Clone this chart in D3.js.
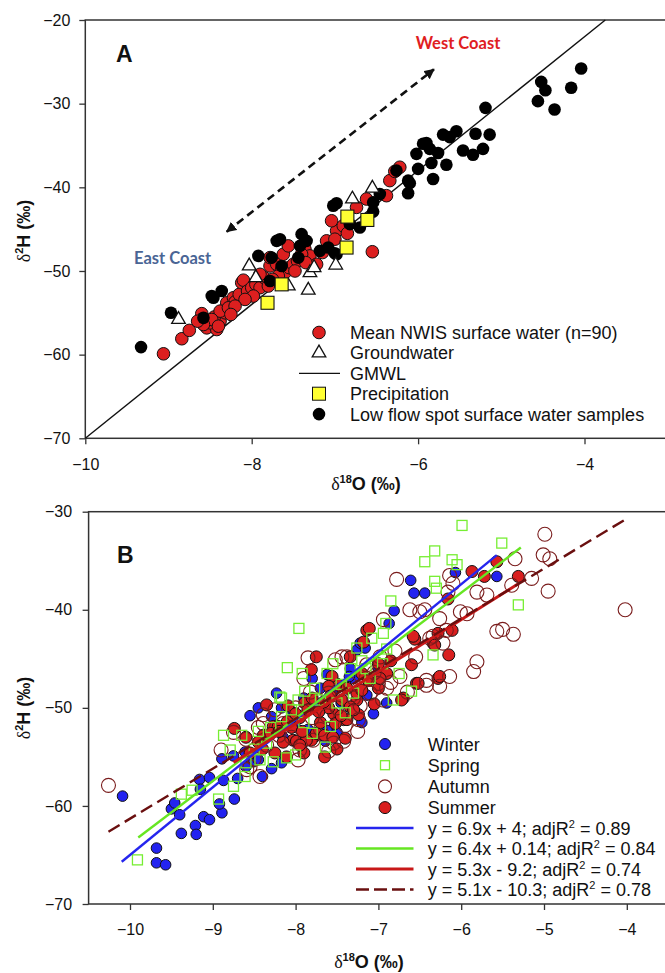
<!DOCTYPE html>
<html>
<head>
<meta charset="utf-8">
<script src="https://cdn.jsdelivr.net/npm/d3@7"></script>
<style>
  body { margin: 0; background: #fff; }
  text { font-family: "Liberation Sans", Arial, sans-serif; }
</style>
</head>
<body>
<div id="chart"></div>
<script>
const width = 665;
const height = 973;

// ---------- panel A data (d18O, d2H) ----------
const nwisMean = [
  [-9.06, -59.9], [-8.84, -58.1], [-8.75, -57.1], [-8.6, -55.1], [-8.54, -56.8],
  [-8.42, -57.0], [-8.38, -56.0], [-8.45, -55.5], [-8.5, -56.2], [-8.32, -55.0],
  [-8.3, -53.8], [-8.38, -54.8], [-8.22, -53.2], [-8.2, -53.7], [-8.15, -52.8],
  [-8.12, -51.4], [-8.1, -51.1], [-8.05, -52.4], [-8.0, -52.0], [-7.95, -51.6],
  [-7.9, -52.0], [-7.98, -53.0], [-8.08, -53.4], [-7.85, -50.8], [-7.78, -49.4],
  [-7.7, -49.2], [-7.64, -49.8], [-7.6, -50.2], [-7.55, -49.6], [-7.5, -49.2],
  [-7.45, -48.8], [-7.78, -48.4], [-7.62, -48.0], [-7.56, -47.0], [-7.36, -47.4],
  [-7.3, -48.2], [-7.22, -49.2], [-7.1, -46.4], [-6.98, -45.2], [-7.04, -44.0],
  [-6.9, -44.6], [-6.85, -45.5], [-6.74, -42.4], [-6.62, -41.4], [-6.38, -41.0],
  [-6.34, -39.2], [-6.28, -38.1], [-6.22, -37.6], [-6.55, -47.7], [-7.4, -48.0],
  [-7.68, -50.6], [-7.75, -51.0], [-8.28, -54.4], [-8.48, -55.8], [-8.58, -56.4],
  [-8.4, -56.6], [-8.2, -54.2], [-7.9, -50.4], [-7.35, -49.0], [-7.15, -47.8],
  [-7.0, -46.2], [-8.65, -56.0], [-8.25, -55.2], [-7.8, -51.8], [-7.48, -50.0]
];
const groundwater = [
  [-6.55, -40.1], [-6.79, -41.4], [-6.99, -49.3], [-7.3, -50.2], [-7.25, -49.6],
  [-7.32, -52.3], [-7.56, -51.8], [-8.03, -49.4], [-8.88, -55.8], [-7.95, -50.8]
];
const precipitation = [
  [-6.85, -43.5], [-6.61, -43.9], [-6.86, -47.2], [-7.64, -51.6], [-7.81, -53.8]
];
const lowFlow = [
  [-4.04, -25.8], [-4.52, -27.4], [-4.47, -28.4], [-4.16, -28.1], [-4.56, -29.7],
  [-4.36, -30.7], [-5.19, -30.5], [-5.7, -33.7], [-5.54, -33.3], [-5.62, -34.0],
  [-5.31, -33.6], [-5.14, -33.7], [-5.9, -34.7], [-5.86, -35.4], [-6.02, -36.0],
  [-5.76, -35.9], [-5.46, -35.6], [-5.34, -36.1], [-5.22, -35.4], [-5.84, -37.1],
  [-5.66, -37.3], [-6.0, -37.8], [-5.82, -39.0], [-6.1, -39.5], [-6.12, -40.7],
  [-6.46, -40.8], [-6.98, -41.9], [-6.7, -44.8], [-6.54, -42.9], [-5.94, -34.8],
  [-6.12, -39.2], [-6.26, -38.0], [-6.54, -41.8], [-6.82, -44.4], [-7.66, -46.2],
  [-7.4, -45.6], [-7.34, -46.4], [-7.42, -47.0], [-7.18, -47.6], [-6.98, -48.0],
  [-7.08, -47.2], [-7.92, -48.2], [-7.76, -48.4], [-7.64, -49.4], [-7.44, -48.4],
  [-7.78, -51.2], [-8.48, -53.0], [-8.36, -52.4], [-8.58, -55.6], [-8.97, -55.0],
  [-9.33, -59.1], [-8.46, -53.2], [-7.7, -46.4], [-7.0, -47.9], [-7.02, -42.2]
];
const gmwl = { slope: 8, intercept: 10 };

// ---------- panel B data (seasonal samples) ----------
const winter = [
  [-10.09, -59.0], [-9.68, -64.3], [-9.68, -65.8], [-9.57, -66.0], [-9.38, -62.8],
  [-9.21, -62.0], [-9.2, -62.9], [-9.11, -61.1], [-9.04, -61.4], [-8.89, -60.7],
  [-8.92, -59.8], [-8.74, -59.3], [-9.5, -60.3], [-9.46, -59.7], [-9.4, -60.9],
  [-9.16, -57.3], [-9.15, -58.3], [-9.04, -57.1], [-8.89, -55.2], [-8.87, -57.4],
  [-8.75, -54.9], [-8.61, -54.5], [-8.51, -55.5], [-8.29, -56.2], [-8.17, -55.6],
  [-8.45, -55.3], [-7.93, -53.9], [-8.23, -48.5], [-8.45, -50.0], [-8.55, -50.8],
  [-8.29, -50.9], [-8.17, -50.0], [-8.03, -50.5], [-7.64, -53.4], [-7.62, -52.3],
  [-7.06, -50.6], [-7.26, -44.1], [-7.34, -46.0], [-7.62, -46.6], [-7.16, -43.9],
  [-7.22, -43.4], [-7.14, -48.7], [-6.61, -37.0], [-6.57, -38.3], [-6.44, -38.3],
  [-6.81, -40.1], [-6.87, -41.4], [-6.07, -36.2], [-5.57, -36.6], [-7.9, -49.0],
  [-7.7, -48.0], [-7.5, -47.5], [-7.8, -47.0], [-7.45, -49.5], [-7.3, -47.0],
  [-7.0, -46.0], [-6.9, -49.5], [-7.2, -51.5], [-7.5, -52.5], [-8.0, -52.0],
  [-8.35, -53.0], [-8.6, -56.0], [-8.7, -57.2], [-8.4, -57.0], [-8.05, -51.2],
  [-7.75, -50.0], [-7.55, -48.4], [-7.35, -46.8], [-7.85, -52.2], [-8.15, -53.0]
];
const spring = [
  [-9.91, -65.5], [-9.38, -58.8], [-9.25, -58.4], [-8.93, -59.3], [-8.75, -58.0],
  [-8.61, -57.0], [-8.87, -52.8], [-8.65, -52.8], [-8.79, -54.3], [-8.45, -52.4],
  [-8.43, -55.3], [-8.27, -55.5], [-8.11, -55.1], [-7.64, -54.0], [-7.96, -41.9],
  [-8.1, -45.9], [-7.92, -46.5], [-8.19, -48.9], [-7.89, -48.3], [-7.58, -51.9],
  [-7.26, -43.9], [-7.34, -46.0], [-8.17, -50.9], [-7.77, -48.0], [-7.62, -46.5],
  [-8.17, -49.0], [-7.97, -49.2], [-5.99, -31.4], [-5.51, -33.2], [-6.32, -34.0],
  [-6.44, -35.1], [-6.11, -34.9], [-6.05, -35.4], [-6.32, -37.1], [-6.3, -37.8],
  [-6.85, -39.1], [-5.31, -39.5], [-6.91, -41.4], [-6.34, -44.6], [-6.82, -49.2],
  [-6.6, -48.3], [-6.94, -42.4], [-7.08, -42.9], [-7.5, -49.5], [-7.3, -48.5],
  [-7.1, -47.0], [-7.9, -51.5], [-8.3, -52.0], [-8.5, -54.2], [-8.0, -54.8],
  [-7.4, -50.5], [-6.95, -45.5], [-7.2, -45.2], [-6.75, -46.5], [-8.05, -50.2],
  [-7.7, -49.2], [-7.45, -47.6], [-7.8, -52.6], [-8.35, -53.6], [-7.15, -46.0],
  [-6.9, -44.0], [-7.55, -45.5], [-8.6, -55.6]
];
const autumn = [
  [-10.26, -57.9], [-8.43, -57.0], [-8.59, -56.3], [-7.95, -54.3], [-8.39, -51.6],
  [-7.79, -53.3], [-7.54, -53.6], [-7.85, -44.9], [-7.44, -44.8], [-8.39, -50.7],
  [-7.24, -51.2], [-7.42, -53.4], [-7.75, -49.2], [-4.99, -32.3], [-5.01, -34.4],
  [-4.93, -34.8], [-4.95, -38.1], [-5.15, -36.8], [-5.39, -37.5], [-5.35, -34.8],
  [-4.02, -40.0], [-6.78, -36.9], [-6.14, -36.5], [-6.1, -37.3], [-5.81, -38.2],
  [-5.69, -38.5], [-6.01, -40.2], [-5.93, -40.4], [-5.57, -42.2], [-5.5, -42.0],
  [-5.37, -42.5], [-5.81, -45.3], [-5.85, -46.3], [-6.42, -47.2], [-6.26, -47.8],
  [-6.62, -40.0], [-6.5, -40.2], [-6.98, -44.8], [-7.14, -45.6], [-6.38, -42.9],
  [-6.22, -43.4], [-6.16, -38.2], [-6.44, -40.0], [-6.26, -40.9], [-6.18, -42.1],
  [-6.34, -42.7], [-6.94, -41.0], [-7.38, -44.8], [-7.52, -45.1], [-6.74, -46.8],
  [-6.42, -47.7], [-6.14, -46.8], [-8.0, -50.0], [-7.8, -51.0], [-7.6, -48.5],
  [-7.5, -50.0], [-7.3, -49.0], [-7.1, -48.5], [-7.9, -47.0], [-8.2, -52.8],
  [-8.6, -53.2], [-8.75, -52.5], [-8.9, -54.3], [-7.0, -47.5], [-6.9, -48.0],
  [-7.97, -55.3], [-8.55, -56.0], [-8.5, -55.2], [-8.35, -53.8], [-8.15, -51.6],
  [-8.05, -53.0], [-7.9, -50.4], [-7.82, -48.4], [-7.7, -52.2], [-7.62, -50.8],
  [-7.48, -48.2], [-7.4, -51.8], [-7.34, -47.6], [-7.22, -49.8], [-7.15, -47.0],
  [-7.05, -46.4], [-6.95, -49.2], [-6.85, -47.4], [-6.8, -44.2], [-7.6, -54.4],
  [-8.25, -50.2], [-8.45, -52.0], [-7.25, -52.4], [-6.65, -48.4], [-6.55, -44.8]
];
const summer = [
  [-8.74, -52.1], [-8.27, -51.9], [-8.39, -52.8], [-8.11, -55.0], [-8.03, -53.3],
  [-7.77, -52.9], [-8.35, -49.7], [-8.09, -49.8], [-7.89, -49.5], [-8.21, -51.9],
  [-7.99, -53.4], [-7.81, -53.3], [-7.54, -50.6], [-7.42, -51.2], [-7.26, -49.2],
  [-7.4, -53.1], [-7.75, -44.8], [-7.81, -46.1], [-7.34, -44.8], [-7.18, -43.3],
  [-7.14, -42.1], [-7.56, -46.8], [-7.48, -47.7], [-7.44, -49.2], [-7.34, -49.9],
  [-7.24, -50.7], [-7.38, -51.2], [-7.26, -48.5], [-7.87, -53.3], [-7.75, -52.6],
  [-5.87, -36.1], [-5.57, -35.1], [-5.72, -36.6], [-5.31, -36.6], [-7.11, -41.9],
  [-6.56, -43.0], [-6.11, -42.1], [-6.28, -42.4], [-6.34, -43.4], [-6.15, -44.6],
  [-6.6, -45.6], [-6.54, -47.5], [-6.28, -47.0], [-6.7, -49.0], [-6.16, -38.9],
  [-6.58, -42.7], [-6.32, -43.6], [-6.26, -46.8], [-6.52, -47.5], [-6.72, -49.2],
  [-7.6, -50.0], [-7.7, -51.5], [-7.95, -51.0], [-8.05, -52.0], [-8.15, -53.5],
  [-8.45, -53.5], [-8.6, -53.0], [-7.6, -47.8], [-7.2, -46.5], [-7.0, -45.5],
  [-7.0, -48.0], [-6.9, -46.5], [-7.9, -54.6], [-7.65, -55.0], [-7.5, -54.2],
  [-8.55, -54.6], [-8.4, -54.2], [-8.3, -52.6], [-8.2, -52.4], [-8.1, -51.4],
  [-8.0, -50.6], [-7.92, -52.4], [-7.85, -50.2], [-7.8, -49.0], [-7.72, -50.4],
  [-7.66, -49.4], [-7.58, -48.8], [-7.52, -51.6], [-7.45, -50.8], [-7.38, -48.0],
  [-7.3, -50.2], [-7.2, -48.2], [-7.12, -47.2], [-7.05, -49.6], [-6.98, -47.0],
  [-7.65, -52.8], [-7.95, -53.8], [-8.25, -54.6], [-7.55, -53.0], [-6.85, -45.2]
];
const fitNames = ["winter", "spring", "summer", "all"];
const fitSlopes = [6.9, 6.4, 5.3, 5.1];
const fitIntercepts = [4, 0.14, -9.2, -10.3];
const fitRanges = [[-10.1, -5.57], [-9.9, -5.28], [-8.75, -5.31], [-10.26, -4.01]];
const fitEquations = ["y = 6.9x + 4", "y = 6.4x + 0.14", "y = 5.3x - 9.2", "y = 5.1x - 10.3"];
const fitR2 = ["0.89", "0.84", "0.74", "0.78"];

const xTicksA = [-10, -8, -6, -4];
const yTicksA = [-70, -60, -50, -40, -30, -20];
const xTicksB = [-10, -9, -8, -7, -6, -5, -4];
const yTicksB = [-70, -60, -50, -40, -30];

const colors = {
  nwis: "#dc1f1f",
  precip: "#ffff33",
  winter: "#2323f0",
  spring: "#77ee33",
  autumn: "#7a1c1c",
  summer: "#d91f1f",
  fitWinter: "#2525ee",
  fitSpring: "#66e622",
  fitSummer: "#c81818",
  fitAll: "#6a0f0f"
};
const fitColors = [colors.fitWinter, colors.fitSpring, colors.fitSummer, colors.fitAll];

const svg = d3.select("#chart").append("svg")
  .attr("width", width)
  .attr("height", height);
svg.append("rect").attr("width", width).attr("height", height).attr("fill", "#fff");

svg.append("defs").append("marker")
  .attr("id", "arrowhead")
  .attr("viewBox", "0 0 10 10")
  .attr("refX", 9).attr("refY", 5)
  .attr("markerWidth", 4).attr("markerHeight", 4)
  .attr("orient", "auto-start-reverse")
  .append("path").attr("d", "M0,0L10,5L0,10z").attr("fill", "#111");

// ---------- scales ----------
const xA = d3.scaleLinear().domain([-10, -3]).range([85.3, 667.7]);
const yA = d3.scaleLinear().domain([-70, -20]).range([438.3, 20]);
const xB = d3.scaleLinear().domain([-10.5, -3.5]).range([88.6, 668.2]);
const yB = d3.scaleLinear().domain([-70, -30]).range([904, 511.7]);

const tickFmt = d3.format("d");

function drawFrame(x, y, xTicks, yTicks, padY) {
  const g = svg.append("g");
  g.append("rect")
    .attr("x", x.range()[0]).attr("y", y.range()[1])
    .attr("width", x.range()[1] - x.range()[0])
    .attr("height", y.range()[0] - y.range()[1])
    .attr("fill", "none").attr("stroke", "#333").attr("stroke-width", 1.5);

  const xAxis = g.append("g")
    .attr("transform", `translate(0, ${y.range()[0]})`)
    .call(d3.axisBottom(x).tickValues(xTicks).tickFormat(tickFmt).tickSize(6).tickPadding(14));
  const yAxis = g.append("g")
    .attr("transform", `translate(${x.range()[0]}, 0)`)
    .call(d3.axisLeft(y).tickValues(yTicks).tickFormat(tickFmt).tickSize(6).tickPadding(padY));
  [xAxis, yAxis].forEach((a) => {
    a.select(".domain").remove();
    a.selectAll("line").attr("stroke", "#333").attr("stroke-width", 1.3);
    a.selectAll("text")
      .style("font-family", '"Liberation Sans", Arial, sans-serif')
      .style("font-size", "16px")
      .style("fill", "#111");
  });
}

function axisTitleX(x, y, sup) {
  const t = svg.append("text")
    .attr("x", x).attr("y", y)
    .attr("text-anchor", "middle")
    .style("fill", "#111")
    .style("font-weight", "bold").style("font-size", "18px");
  t.append("tspan").style("font-family", '"Liberation Serif", serif').style("font-weight", "normal").text("δ");
  t.append("tspan").attr("dy", -7).style("font-size", "11px").text(sup);
  t.append("tspan").attr("dy", 7).text("O (‰)");
}

function axisTitleY(x, y) {
  const t = svg.append("text")
    .attr("transform", `translate(${x}, ${y}) rotate(-90)`)
    .attr("text-anchor", "middle")
    .style("fill", "#111")
    .style("font-weight", "bold").style("font-size", "18px");
  t.append("tspan").style("font-family", '"Liberation Serif", serif').style("font-weight", "normal").text("δ");
  t.append("tspan").attr("dy", -7).style("font-size", "11px").text("2");
  t.append("tspan").attr("dy", 7).text("H (‰)");
}

// ================= panel A =================
drawFrame(xA, yA, xTicksA, yTicksA, 9);
axisTitleX(366, 490, "18");
axisTitleY(30, 231);

svg.append("text").attr("x", 116).attr("y", 62).style("fill", "#111")
  .style("font-weight", "bold").style("font-size", "23px").text("A");

// GMWL
const gmwlEnd = (-20 - gmwl.intercept) / gmwl.slope;
svg.append("line")
  .attr("x1", xA(-10)).attr("y1", yA(gmwl.slope * -10 + gmwl.intercept))
  .attr("x2", xA(gmwlEnd)).attr("y2", yA(-20))
  .attr("stroke", "#111").attr("stroke-width", 1.4);

// dashed arrow and coast labels
svg.append("line")
  .attr("x1", xA(-8.3)).attr("y1", yA(-45.3))
  .attr("x2", xA(-5.81)).attr("y2", yA(-25.9))
  .attr("stroke", "#111").attr("stroke-width", 2.6)
  .attr("stroke-dasharray", "8,5")
  .attr("marker-start", "url(#arrowhead)")
  .attr("marker-end", "url(#arrowhead)");

svg.append("text").attr("x", xA(-5.52)).attr("y", yA(-22.8) + 6)
  .attr("text-anchor", "middle")
  .style("font-family", "Lato, sans-serif").style("font-weight", "bold").style("font-size", "16.5px")
  .style("fill", "#e0201f").text("West Coast");
svg.append("text").attr("x", xA(-8.95)).attr("y", yA(-48.4) + 6)
  .attr("text-anchor", "middle")
  .style("font-family", "Lato, sans-serif").style("font-weight", "bold").style("font-size", "16.5px")
  .style("fill", "#4a6595").text("East Coast");

const gA = svg.append("g");
gA.selectAll("circle.nwis").data(nwisMean).enter().append("circle")
  .attr("class", "nwis")
  .attr("cx", (d) => xA(d[0])).attr("cy", (d) => yA(d[1])).attr("r", 6.3)
  .attr("fill", colors.nwis).attr("stroke", "#111").attr("stroke-width", 1);
gA.selectAll("circle.low").data(lowFlow).enter().append("circle")
  .attr("class", "low")
  .attr("cx", (d) => xA(d[0])).attr("cy", (d) => yA(d[1])).attr("r", 6.3)
  .attr("fill", "#000");
const tri = d3.symbol(d3.symbolTriangle, 80);
gA.selectAll("path.gw").data(groundwater).enter().append("path")
  .attr("class", "gw")
  .attr("d", tri)
  .attr("transform", (d) => `translate(${xA(d[0])}, ${yA(d[1])})`)
  .attr("fill", "#fff").attr("stroke", "#111").attr("stroke-width", 1.3);
gA.selectAll("rect.precip").data(precipitation).enter().append("rect")
  .attr("class", "precip")
  .attr("x", (d) => xA(d[0]) - 6.5).attr("y", (d) => yA(d[1]) - 6.5)
  .attr("width", 13).attr("height", 13)
  .attr("fill", colors.precip).attr("stroke", "#111").attr("stroke-width", 1.1);

// legend A
const legendA = svg.append("g").attr("transform", "translate(319, 332.5)");
const legendALabels = [
  "Mean NWIS surface water (n=90)",
  "Groundwater",
  "GMWL",
  "Precipitation",
  "Low flow spot surface water samples"
];
legendALabels.forEach((label, i) => {
  const row = legendA.append("g").attr("transform", `translate(0, ${i * 20.4})`);
  if (i === 0) row.append("circle").attr("r", 6.3).attr("fill", colors.nwis).attr("stroke", "#111");
  if (i === 1) row.append("path").attr("d", tri).attr("fill", "#fff").attr("stroke", "#111").attr("stroke-width", 1.3);
  if (i === 2) row.append("line").attr("x1", -20).attr("x2", 21).attr("stroke", "#111").attr("stroke-width", 1.2);
  if (i === 3) row.append("rect").attr("x", -6.5).attr("y", -6.5).attr("width", 13).attr("height", 13)
    .attr("fill", colors.precip).attr("stroke", "#111");
  if (i === 4) row.append("circle").attr("r", 6.3).attr("fill", "#000");
  row.append("text").attr("x", 31).attr("y", 6.5).style("fill", "#111").style("font-size", "18px").text(label);
});

// ================= panel B =================
drawFrame(xB, yB, xTicksB, yTicksB, 10.5);
axisTitleX(369, 968, "18");
axisTitleY(30, 708);

svg.append("text").attr("x", 117).attr("y", 563).style("fill", "#111")
  .style("font-weight", "bold").style("font-size", "23px").text("B");

const gB = svg.append("g");
gB.selectAll("circle.winter").data(winter).enter().append("circle")
  .attr("class", "winter")
  .attr("cx", (d) => xB(d[0])).attr("cy", (d) => yB(d[1])).attr("r", 5.3)
  .attr("fill", colors.winter).attr("stroke", "#111").attr("stroke-width", 1);
gB.selectAll("circle.summer").data(summer).enter().append("circle")
  .attr("class", "summer")
  .attr("cx", (d) => xB(d[0])).attr("cy", (d) => yB(d[1])).attr("r", 6)
  .attr("fill", colors.summer).attr("stroke", "#111").attr("stroke-width", 1);
gB.selectAll("circle.autumn").data(autumn).enter().append("circle")
  .attr("class", "autumn")
  .attr("cx", (d) => xB(d[0])).attr("cy", (d) => yB(d[1])).attr("r", 7)
  .attr("fill", "none").attr("stroke", colors.autumn).attr("stroke-width", 1.1);
gB.selectAll("rect.spring").data(spring).enter().append("rect")
  .attr("class", "spring")
  .attr("x", (d) => xB(d[0]) - 5).attr("y", (d) => yB(d[1]) - 5)
  .attr("width", 10).attr("height", 10)
  .attr("fill", "none").attr("stroke", colors.spring).attr("stroke-width", 1.3);

// regression lines
fitNames.forEach((name, i) => {
  const [x0, x1] = fitRanges[i];
  gB.append("line")
    .attr("class", `fit-${name}`)
    .attr("x1", xB(x0)).attr("y1", yB(fitSlopes[i] * x0 + fitIntercepts[i]))
    .attr("x2", xB(x1)).attr("y2", yB(fitSlopes[i] * x1 + fitIntercepts[i]))
    .attr("stroke", fitColors[i])
    .attr("stroke-width", name === "summer" ? 3 : 2.4)
    .attr("stroke-dasharray", name === "all" ? "13,6" : null);
});

// legend B
const legendB = svg.append("g").attr("transform", "translate(385, 744)");
const seasonLabels = ["Winter", "Spring", "Autumn", "Summer"];
seasonLabels.forEach((label, i) => {
  const row = legendB.append("g").attr("transform", `translate(0, ${i * 21.2})`);
  if (i === 0) row.append("circle").attr("r", 5.5).attr("fill", colors.winter).attr("stroke", "#111");
  if (i === 1) row.append("rect").attr("x", -4.5).attr("y", -4.5).attr("width", 9).attr("height", 9)
    .attr("fill", "none").attr("stroke", colors.spring).attr("stroke-width", 1.3);
  if (i === 2) row.append("circle").attr("r", 6.5).attr("fill", "none").attr("stroke", colors.autumn).attr("stroke-width", 1.1);
  if (i === 3) row.append("circle").attr("r", 6).attr("fill", colors.summer).attr("stroke", "#111");
  row.append("text").attr("x", 42.7).attr("y", 6.5).style("fill", "#111").style("font-size", "18px").text(label);
});
fitNames.forEach((name, i) => {
  const row = legendB.append("g").attr("transform", `translate(0, ${84 + i * 20.5})`);
  row.append("line").attr("x1", -29).attr("x2", 28.5)
    .attr("stroke", fitColors[i])
    .attr("stroke-width", name === "summer" ? 3 : 2.4)
    .attr("stroke-dasharray", name === "all" ? "13,5" : null);
  const t = row.append("text").attr("x", 42.7).attr("y", 6.5).style("fill", "#111").style("font-size", "18px");
  t.append("tspan").text(`${fitEquations[i]}; adjR`);
  t.append("tspan").attr("dy", -7).style("font-size", "11px").text("2");
  t.append("tspan").attr("dy", 7).text(` = ${fitR2[i]}`);
});
</script>
</body>
</html>
